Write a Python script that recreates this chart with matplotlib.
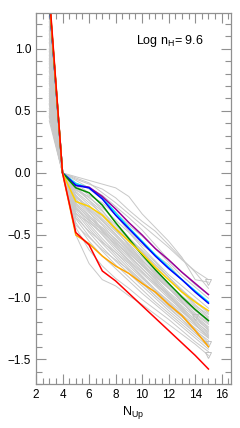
import matplotlib
matplotlib.use("Agg")
import matplotlib.pyplot as plt
from matplotlib.ticker import MultipleLocator

plt.rcParams['font.family'] = ['Liberation Sans', 'DejaVu Sans']
plt.rcParams['mathtext.fontset'] = 'custom'
plt.rcParams['mathtext.rm'] = 'Liberation Sans'
plt.rcParams['mathtext.it'] = 'Liberation Sans'

n_up = [3, 4, 5, 6, 7, 8, 9, 10, 11, 12, 13, 14, 15]

grey_lines = [
    [1.40, 0, -0.03, -0.06, -0.09, -0.12, -0.19, -0.33, -0.44, -0.55, -0.68, -0.86, -0.88],
    [0.62, 0, -0.05, -0.09, -0.13, -0.20, -0.30, -0.39, -0.47, -0.58, -0.69, -0.80, -0.93],
    [1.18, 0, -0.08, -0.13, -0.21, -0.32, -0.42, -0.51, -0.61, -0.72, -0.83, -0.92, -1.01],
    [0.85, 0, -0.10, -0.18, -0.24, -0.34, -0.47, -0.58, -0.66, -0.74, -0.86, -0.96, -1.05],
    [1.05, 0, -0.12, -0.20, -0.28, -0.38, -0.48, -0.60, -0.71, -0.82, -0.91, -1.00, -1.09],
    [0.48, 0, -0.13, -0.22, -0.31, -0.42, -0.53, -0.62, -0.72, -0.84, -0.95, -1.03, -1.12],
    [1.30, 0, -0.15, -0.24, -0.33, -0.44, -0.55, -0.66, -0.77, -0.86, -0.96, -1.07, -1.14],
    [0.72, 0, -0.16, -0.26, -0.37, -0.47, -0.57, -0.68, -0.79, -0.90, -0.99, -1.08, -1.17],
    [0.95, 0, -0.18, -0.28, -0.38, -0.49, -0.60, -0.71, -0.80, -0.91, -1.02, -1.11, -1.18],
    [0.55, 0, -0.19, -0.30, -0.41, -0.51, -0.62, -0.72, -0.84, -0.93, -1.03, -1.13, -1.21],
    [1.22, 0, -0.21, -0.32, -0.42, -0.54, -0.64, -0.75, -0.85, -0.96, -1.05, -1.14, -1.22],
    [0.78, 0, -0.22, -0.34, -0.45, -0.55, -0.67, -0.77, -0.87, -0.97, -1.07, -1.16, -1.25],
    [0.42, 0, -0.24, -0.35, -0.47, -0.58, -0.68, -0.79, -0.90, -0.99, -1.09, -1.18, -1.26],
    [1.12, 0, -0.25, -0.37, -0.49, -0.60, -0.71, -0.81, -0.91, -1.01, -1.10, -1.20, -1.28],
    [0.66, 0, -0.27, -0.39, -0.50, -0.62, -0.72, -0.83, -0.94, -1.03, -1.12, -1.21, -1.30],
    [0.90, 0, -0.28, -0.41, -0.53, -0.64, -0.75, -0.85, -0.95, -1.05, -1.14, -1.23, -1.31],
    [0.50, 0, -0.30, -0.43, -0.55, -0.66, -0.77, -0.87, -0.97, -1.07, -1.16, -1.25, -1.33],
    [1.00, 0, -0.32, -0.45, -0.57, -0.68, -0.79, -0.89, -0.99, -1.09, -1.18, -1.27, -1.35],
    [0.58, 0, -0.34, -0.48, -0.60, -0.71, -0.81, -0.91, -1.01, -1.11, -1.20, -1.29, -1.38],
    [0.82, 0, -0.37, -0.51, -0.63, -0.74, -0.84, -0.94, -1.04, -1.13, -1.22, -1.31, -1.40],
    [0.45, 0, -0.40, -0.55, -0.67, -0.77, -0.87, -0.97, -1.06, -1.15, -1.24, -1.33, -1.42],
    [0.68, 0, -0.44, -0.62, -0.75, -0.85, -0.93, -1.02, -1.10, -1.18, -1.27, -1.36, -1.44],
    [0.52, 0, -0.50, -0.73, -0.86, -0.91, -0.99, -1.06, -1.14, -1.22, -1.30, -1.38, -1.47],
    [1.15, 0, -0.09, -0.16, -0.26, -0.40, -0.52, -0.63, -0.74, -0.84, -0.94, -1.04, -1.13],
    [0.98, 0, -0.14, -0.19, -0.30, -0.45, -0.59, -0.70, -0.82, -0.93, -1.01, -1.11, -1.20],
    [0.74, 0, -0.20, -0.27, -0.35, -0.46, -0.58, -0.70, -0.81, -0.92, -1.04, -1.15, -1.24],
    [0.60, 0, -0.26, -0.36, -0.44, -0.53, -0.63, -0.74, -0.86, -0.98, -1.10, -1.22, -1.33],
    [1.08, 0, -0.18, -0.31, -0.46, -0.56, -0.65, -0.74, -0.83, -0.93, -1.04, -1.16, -1.27],
    [0.88, 0, -0.33, -0.40, -0.48, -0.57, -0.66, -0.77, -0.88, -1.00, -1.11, -1.22, -1.32],
    [0.46, 0, -0.36, -0.47, -0.56, -0.64, -0.73, -0.84, -0.94, -1.04, -1.14, -1.26, -1.37],
    [1.26, 0, -0.06, -0.12, -0.18, -0.27, -0.36, -0.46, -0.58, -0.70, -0.80, -0.90, -0.98],
    [0.92, 0, -0.11, -0.22, -0.34, -0.44, -0.54, -0.64, -0.74, -0.84, -0.95, -1.06, -1.16],
    [0.64, 0, -0.23, -0.29, -0.39, -0.50, -0.61, -0.73, -0.83, -0.93, -1.01, -1.10, -1.19],
    [0.76, 0, -0.29, -0.38, -0.46, -0.59, -0.70, -0.80, -0.89, -0.98, -1.08, -1.19, -1.29],
    [1.34, 0, -0.04, -0.08, -0.16, -0.24, -0.33, -0.42, -0.51, -0.60, -0.70, -0.79, -0.86],
    [0.56, 0, -0.42, -0.52, -0.62, -0.70, -0.78, -0.88, -0.99, -1.08, -1.18, -1.29, -1.38],
]

limit_x = [15, 15, 15, 14]
limit_y = [-0.88, -1.38, -1.47, -1.16]

cyan_y   = [1.40, 0, -0.085, -0.12, -0.20, -0.32, -0.44, -0.55, -0.66, -0.76, -0.86, -0.95, -1.04]
purple_y = [1.40, 0, -0.10, -0.115, -0.19, -0.29, -0.40, -0.50, -0.61, -0.70, -0.80, -0.89, -0.98]
blue_y   = [1.40, 0, -0.10, -0.12, -0.21, -0.34, -0.45, -0.56, -0.67, -0.77, -0.86, -0.96, -1.05]
green_y  = [1.41, 0, -0.12, -0.16, -0.26, -0.40, -0.53, -0.66, -0.78, -0.89, -1.00, -1.10, -1.19]
yellow_y = [1.43, 0, -0.23, -0.27, -0.34, -0.45, -0.55, -0.65, -0.76, -0.86, -0.96, -1.04, -1.11]
orange_y = [1.42, 0, -0.50, -0.57, -0.67, -0.75, -0.81, -0.89, -0.96, -1.06, -1.15, -1.27, -1.40]
red_y    = [1.45, 0, -0.48, -0.58, -0.79, -0.87, -0.97, -1.07, -1.17, -1.27, -1.37, -1.47, -1.58]

fig = plt.figure(figsize=(2.4, 4.28), dpi=100)
ax = fig.add_axes([0.15, 0.103, 0.8125, 0.867])

for g in grey_lines:
    ax.plot(n_up, g, color='#c8c8c8', lw=0.7, zorder=1)
ax.plot(limit_x, limit_y, linestyle='none', marker='v', mfc='none',
        mec='#c0c0c0', ms=4, mew=0.7, zorder=1)

colored = [(cyan_y, '#00e5ff'), (purple_y, '#990099'), (blue_y, '#0000ff'),
           (green_y, '#008c00'), (yellow_y, '#ffd000'), (orange_y, '#ffa500'),
           (red_y, '#ff0000')]
for ys, c in colored:
    ax.plot(n_up, ys, color=c, lw=1.1, zorder=2)

ax.set_xlim(2, 16.7)
ax.set_ylim(-1.7, 1.29)
ax.xaxis.set_major_locator(MultipleLocator(2))
ax.xaxis.set_minor_locator(MultipleLocator(0.5))
ax.yaxis.set_major_locator(MultipleLocator(0.5))
ax.yaxis.set_minor_locator(MultipleLocator(0.1))
ax.tick_params(which='both', direction='in', top=True, right=True,
               color='#909090', width=0.8, labelsize=8.5, labelcolor='black')
ax.tick_params(which='major', length=7.5, pad=3.5)
ax.tick_params(which='minor', length=4)
for s in ax.spines.values():
    s.set_color('#909090')
    s.set_linewidth(0.9)

ax.set_xlabel(r'N$_{\mathrm{Up}}$', fontsize=9, labelpad=2)
ax.text(0.515, 0.917, r'Log n$_{\mathrm{H}}$= 9.6',
        transform=ax.transAxes, ha='left', va='baseline', fontsize=9)

fig.savefig('out.png', dpi=100)
